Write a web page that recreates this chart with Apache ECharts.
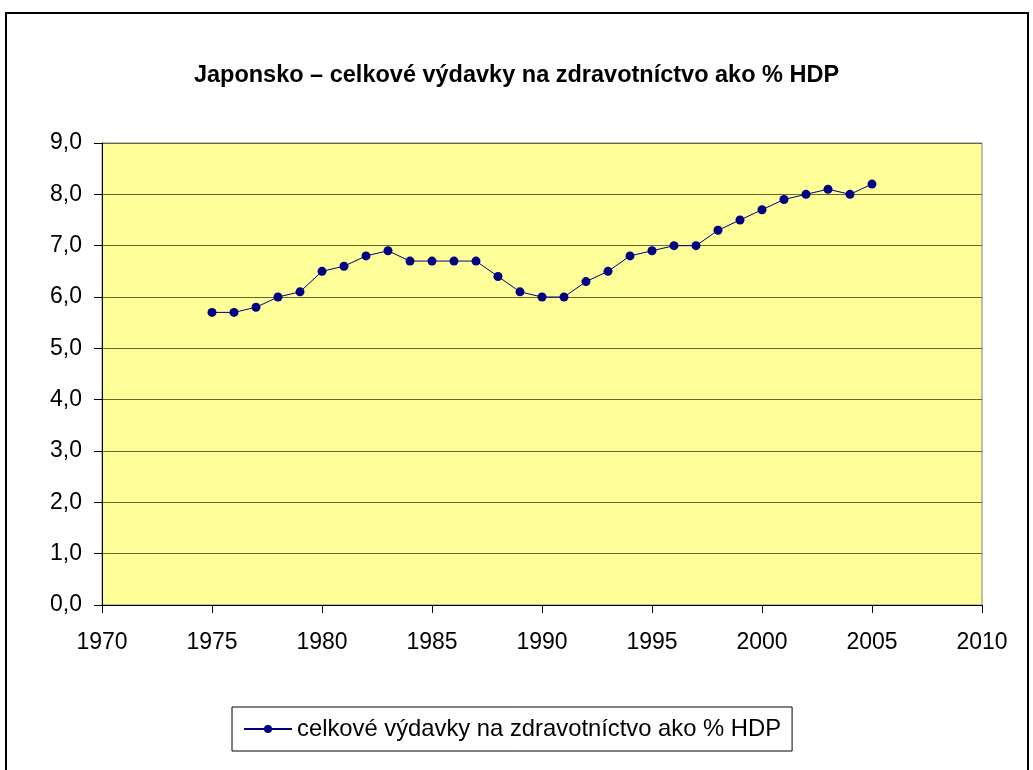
<!DOCTYPE html>
<html>
<head>
<meta charset="utf-8">
<script src="https://cdn.jsdelivr.net/npm/echarts@6/dist/echarts.min.js"></script>
<style>
  html, body { margin: 0; padding: 0; background: #ffffff; }
  #chart { width: 1033px; height: 770px; }
</style>
</head>
<body>
<div id="chart"></div>
<script>
  // roky a hodnoty (% HDP)
  const years = [1975, 1976, 1977, 1978, 1979, 1980, 1981, 1982, 1983, 1984, 1985, 1986, 1987, 1988, 1989, 1990,
    1991, 1992, 1993, 1994, 1995, 1996, 1997, 1998, 1999, 2000, 2001, 2002, 2003, 2004, 2005];
  const values = [5.7, 5.7, 5.8, 6.0, 6.1, 6.5, 6.6, 6.8, 6.9, 6.7, 6.7, 6.7, 6.7, 6.4, 6.1, 6.0,
    6.0, 6.3, 6.5, 6.8, 6.9, 7.0, 7.0, 7.3, 7.5, 7.7, 7.9, 8.0, 8.1, 8.0, 8.2];
  const seriesName = 'celkové výdavky na zdravotníctvo ako % HDP';
  const titleText = 'Japonsko – celkové výdavky na zdravotníctvo ako % HDP';

  const myChart = echarts.init(document.getElementById('chart'));
  myChart.setOption({
    animation: false,
    textStyle: { fontFamily: 'Liberation Sans, Arial, sans-serif' },
    graphic: [
      {
        type: 'rect',
        shape: { x: 6, y: 13, width: 1022, height: 800 },
        style: { fill: 'none', stroke: '#000000', lineWidth: 2 },
        silent: true,
      },
    ],
    title: {
      text: titleText,
      left: 'center',
      top: 59,
      textStyle: { fontSize: 23.5, fontWeight: 'bold', color: '#000000' },
    },
    grid: {
      left: 102,
      right: 51,
      top: 143,
      bottom: 165,
      show: true,
      backgroundColor: '#FFFF99',
      borderColor: '#808080',
      borderWidth: 1,
    },
    xAxis: {
      type: 'value',
      min: 1970,
      max: 2010,
      interval: 5,
      axisLine: { show: true, lineStyle: { color: '#000000', width: 1 } },
      axisTick: { show: true, inside: false, length: 8, lineStyle: { color: '#000000' } },
      axisLabel: {
        fontSize: 23,
        color: '#000000',
        margin: 26,
        formatter(v) {
          return String(v);
        },
      },
      splitLine: { show: false },
    },
    yAxis: {
      type: 'value',
      min: 0,
      max: 9,
      interval: 1,
      axisLine: { show: true, lineStyle: { color: '#000000', width: 1 } },
      axisTick: { show: true, inside: false, length: 8, lineStyle: { color: '#000000' } },
      axisLabel: {
        fontSize: 23,
        color: '#000000',
        margin: 20,
        formatter(v) {
          return v.toFixed(1).replace('.', ',');
        },
      },
      splitLine: { show: true, lineStyle: { color: '#666633', width: 1 } },
    },
    legend: {
      data: [seriesName],
      left: 232,
      top: 707,
      padding: [10, 11],
      itemWidth: 48,
      itemHeight: 10,
      itemGap: 6,
      borderColor: '#000000',
      borderWidth: 1,
      textStyle: { fontSize: 23.8, color: '#000000' },
    },
    series: [
      {
        name: seriesName,
        type: 'line',
        data: years.map((y, i) => [y, values[i]]),
        symbol: 'circle',
        symbolSize: 9,
        lineStyle: { color: '#000080', width: 1 },
        itemStyle: { color: '#000080' },
      },
    ],
  });
</script>
</body>
</html>
